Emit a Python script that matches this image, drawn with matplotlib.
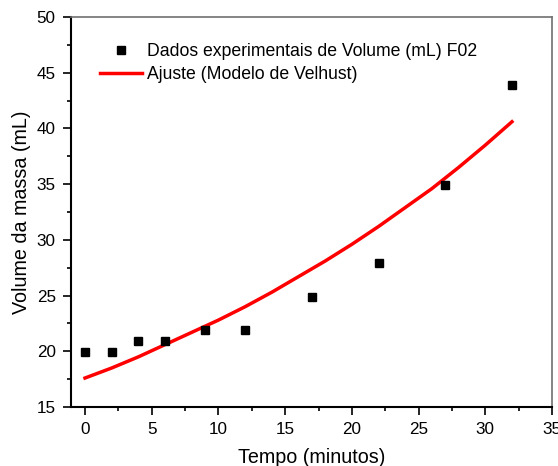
import matplotlib
matplotlib.use("Agg")
import matplotlib.pyplot as plt
from matplotlib.ticker import MultipleLocator

plt.rcParams['font.family'] = ['Liberation Sans', 'DejaVu Sans']

tempo = [0, 2, 4, 6, 9, 12, 17, 22, 27, 32]
volume = [19.9, 19.9, 20.9, 20.9, 21.9, 21.9, 24.9, 27.9, 34.9, 43.9]

fit_x = [0, 2, 4, 6, 8, 10, 12, 14, 16, 18, 20, 22, 24, 26, 28, 30, 32]
fit_y = [17.6, 18.5, 19.5, 20.6, 21.7, 22.8, 24.0, 25.3, 26.7, 28.1, 29.6,
         31.2, 32.9, 34.6, 36.5, 38.5, 40.6]

fig = plt.figure(figsize=(5.58, 4.66), dpi=100)
ax = fig.add_axes([71/558, 1 - 407/466, (552-71)/558, (407-17)/466])

ax.plot(tempo, volume, 's', color='black', markersize=6,
        label='Dados experimentais de Volume (mL) F02', zorder=3)
ax.plot(fit_x, fit_y, '-', color='#ff0000', linewidth=2.5,
        label='Ajuste (Modelo de Velhust)', zorder=2)

ax.set_xlim(-1.05, 35)
ax.set_ylim(15, 50)
ax.xaxis.set_major_locator(MultipleLocator(5))
ax.xaxis.set_minor_locator(MultipleLocator(2.5))
ax.yaxis.set_major_locator(MultipleLocator(5))
ax.yaxis.set_minor_locator(MultipleLocator(2.5))

ax.tick_params(which='major', direction='out', length=6, width=1.2,
               labelsize=12.3, colors='black', pad=5)
ax.tick_params(which='minor', direction='out', length=3, width=1.2)
ax.tick_params(top=False, right=False, which='both')

for s in ['left', 'bottom']:
    ax.spines[s].set_linewidth(1.5)
    ax.spines[s].set_color('black')
for s in ['top', 'right']:
    ax.spines[s].set_linewidth(1.2)
    ax.spines[s].set_color('#707070')

ax.set_xlabel('Tempo (minutos)', fontsize=14.2, labelpad=8)
ax.set_ylabel('Volume da massa (mL)', fontsize=14.2, labelpad=4)

leg = ax.legend(loc='upper left', bbox_to_anchor=(0.046, 0.951), frameon=False,
                fontsize=12.7, handlelength=2.36, handletextpad=0.29,
                labelspacing=0.33, borderaxespad=0)

fig.savefig('out.png', dpi=100)
